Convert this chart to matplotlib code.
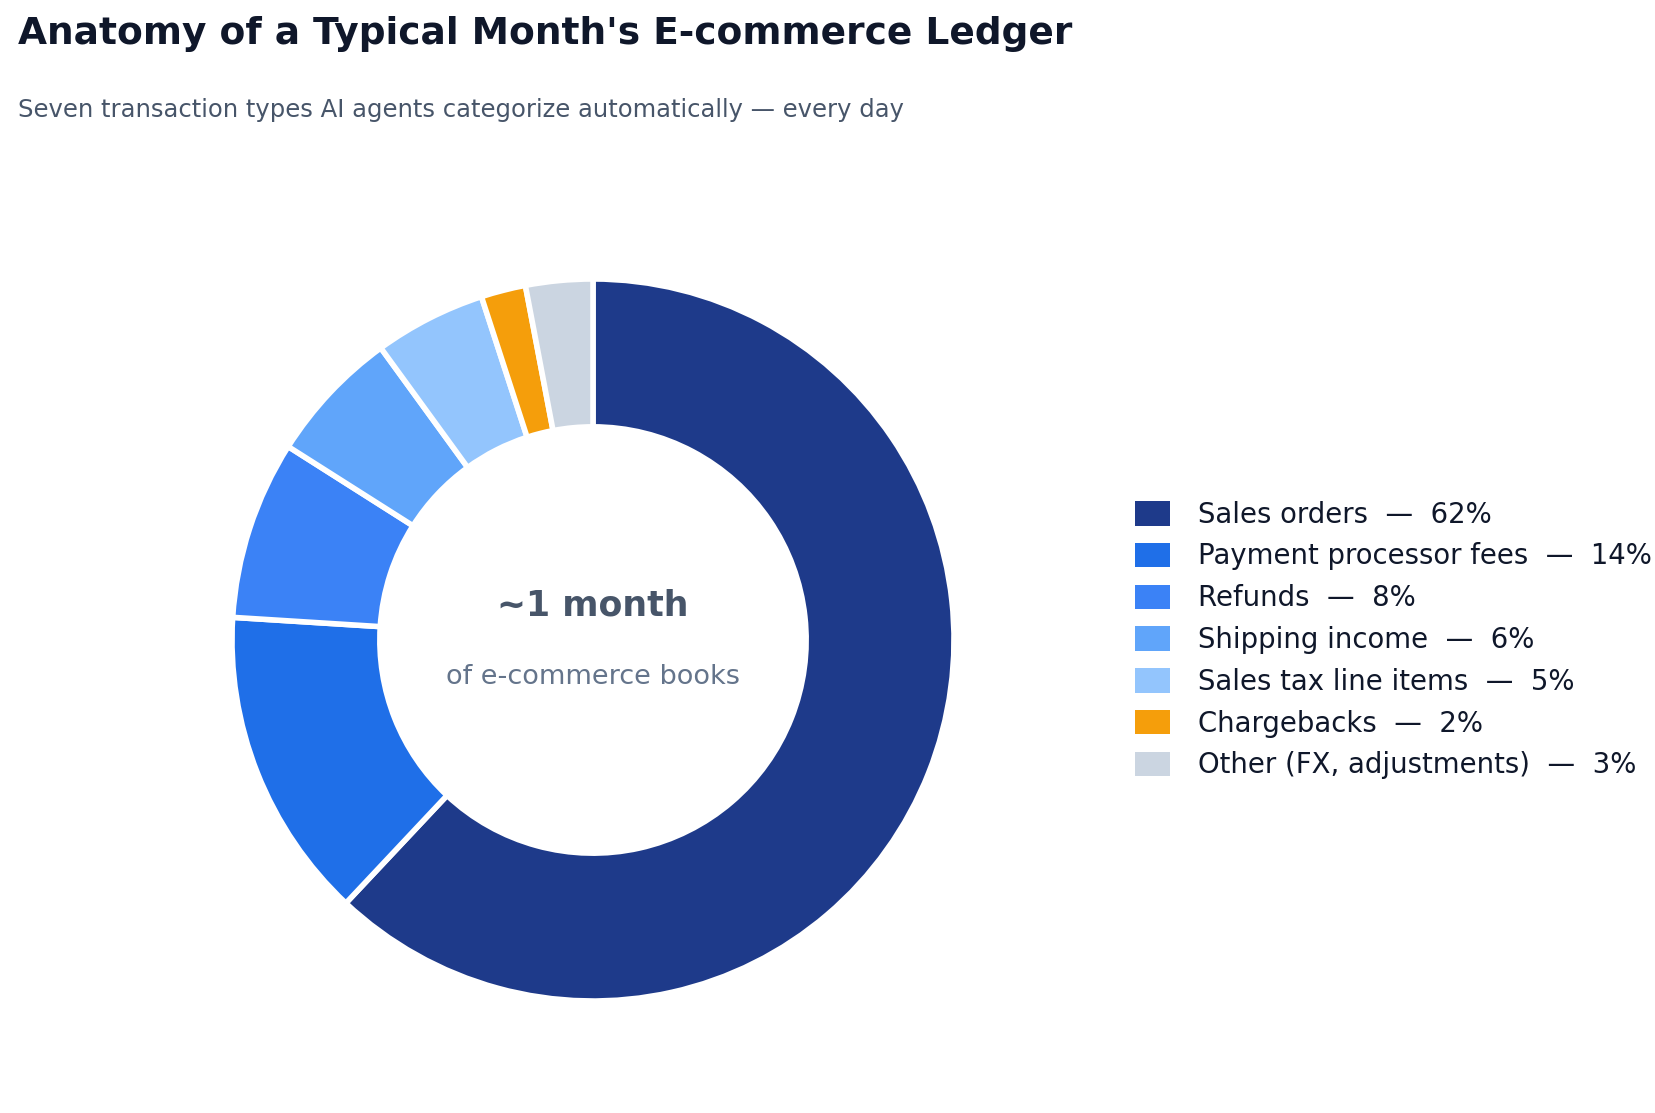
import matplotlib
matplotlib.use("Agg")
import matplotlib.pyplot as plt
from matplotlib.patches import Patch

categories = ["Sales orders", "Payment processor fees", "Refunds", "Shipping income",
              "Sales tax line items", "Chargebacks", "Other (FX, adjustments)"]
values = [62, 14, 8, 6, 5, 2, 3]
colors = ["#1e3a8a", "#1f6fe8", "#3b82f6", "#60a5fa", "#93c5fd", "#f59e0b", "#cbd5e1"]

W, H = 1656, 1113
cx, cy, R = 593, 640, 361
fig = plt.figure(figsize=(16.56, 11.13), dpi=100)
ax = fig.add_axes([(cx-365)/W, (H-cy-365)/H, 730/W, 730/H])
ax.pie(values, colors=colors, startangle=90, counterclock=False, radius=R/365,
       wedgeprops=dict(width=0.405, edgecolor="white", linewidth=4))
ax.set_xlim(-1, 1); ax.set_ylim(-1, 1); ax.set_aspect("equal"); ax.axis("off")
ax.text(0, 0.095, "~1 month", ha="center", va="center", fontsize=25, fontweight="bold", color="#475569")
ax.text(0, -0.1, "of e-commerce books", ha="center", va="center", fontsize=19.5, color="#64748b")

fig.text(18/W, 1-34/H, "Anatomy of a Typical Month's E-commerce Ledger", fontsize=27,
         fontweight="bold", color="#0f172a", va="center")
fig.text(18/W, 1-110/H, "Seven transaction types AI agents categorize automatically — every day",
         fontsize=17.5, color="#475569", va="center")

handles = [Patch(facecolor=c, edgecolor="none") for c in colors]
labels = [f"{c}  —  {v}%" for c, v in zip(categories, values)]
fig.legend(handles, labels, loc="center left", bbox_to_anchor=(1110/W, 1-640/H),
           frameon=False, fontsize=19.8, handlelength=1.3, handleheight=1.0,
           labelspacing=0.5, handletextpad=1.0, labelcolor="#0f172a")
fig.savefig("out.png", dpi=100)
